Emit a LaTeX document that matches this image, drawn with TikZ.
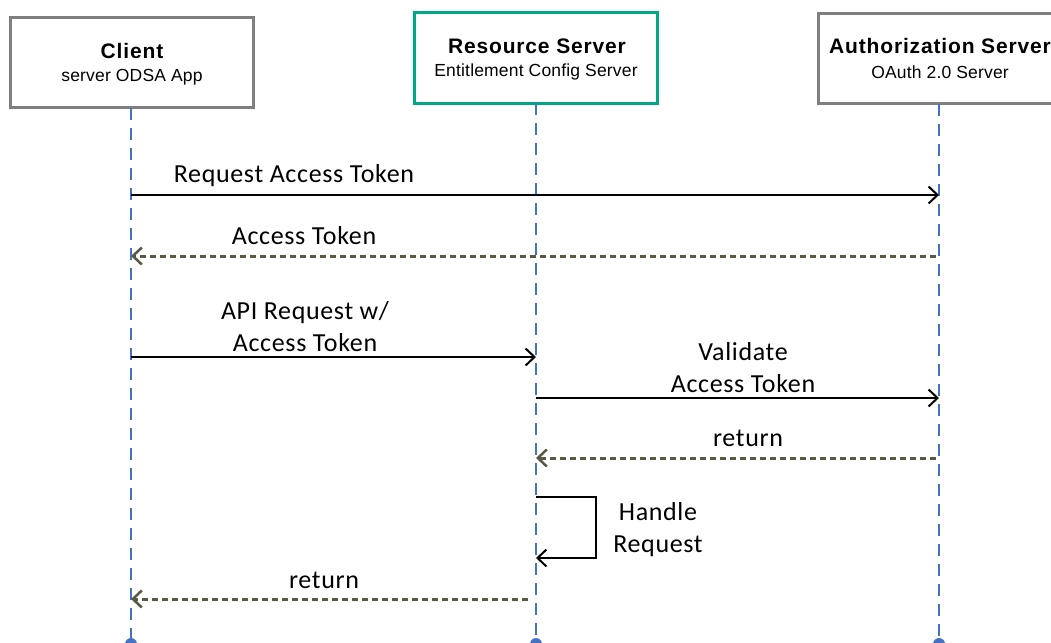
\documentclass[tikz,border=0pt]{standalone}
\usepackage{fontspec}
\setmainfont{Liberation Sans}
\newfontfamily\calib[LetterSpace=2.5]{Carlito}
\newfontfamily\titlefont[LetterSpace=4]{Liberation Sans}
\newfontfamily\subfont[LetterSpace=1]{Liberation Sans}
\usetikzlibrary{arrows.meta}
\definecolor{lifeblue}{HTML}{4472C4}
\definecolor{boxgray}{HTML}{7F7F7F}
\definecolor{boxgreen}{HTML}{00A884}
\definecolor{retcol}{HTML}{5A5843}
\tikzset{
  actor/.style={draw=#1, line width=3pt, fill=white, minimum width=243pt, minimum height=90pt, inner sep=0pt, align=center},
  ttl/.style={font=\titlefont\fontsize{21}{24}\selectfont\bfseries},
  sub/.style={font=\subfont\fontsize{17.5}{20}\selectfont},
  life/.style={draw=lifeblue, line width=1.5pt, dash pattern=on 12pt off 8pt},
  enddot/.style={circle, fill=lifeblue, minimum size=12pt, inner sep=0pt},
  msg/.style={draw=black, line width=2pt, -{Straight Barb[length=9pt,width=17pt,line width=2pt]}},
  ret/.style={draw=retcol, line width=3pt, dash pattern=on 6pt off 4pt, -{Straight Barb[length=9pt,width=17pt,line width=2.5pt]}},
  lbl/.style={font=\calib\fontsize{26}{32}\selectfont, align=center, inner sep=0pt}
}
\begin{document}
\begin{tikzpicture}[x=1pt,y=-1pt]
\useasboundingbox (0,0) rectangle (1051,642);
% lifelines
\coordinate (cb) at (131,644);
\coordinate (rb) at (536,644);
\coordinate (ab) at (939,644);
\node[actor=boxgray] (client) at (131.5,62.5) {};
\node[actor=boxgreen] (res) at (535.5,58) {};
\node[actor=boxgray] (auth) at (939.5,58.5) {};
\draw[life] (131,108) -- (cb);
\draw[life] (536,103) -- (rb);
\draw[life] (939,104) -- (ab);
\node[enddot] (cd) at (cb) {};
\node[enddot] (rd) at (rb) {};
\node[enddot] (ad) at (ab) {};
% box texts
\node[ttl] (ct) at (132,51) {Client};
\node[sub] (cs) at (132,77) {server ODSA App};
\node[ttl] (rt) at (537,46) {Resource Server};
\node[sub] (rs) at (536,72) {Entitlement Config Server};
\node[ttl] (at) at (940,46) {Authorization Server};
\node[sub] (as) at (940,72) {OAuth 2.0 Server};
% message coordinates
\coordinate (m1s) at (131,195); \coordinate (m1e) at (939,195);
\coordinate (m2s) at (936,256); \coordinate (m2e) at (131,256);
\coordinate (m3s) at (131,357); \coordinate (m3e) at (536,357);
\coordinate (m4s) at (536,398); \coordinate (m4e) at (939,398);
\coordinate (m5s) at (936,458); \coordinate (m5e) at (536,458);
\coordinate (m6s) at (536,497); \coordinate (m6a) at (596,497); \coordinate (m6b) at (596,558); \coordinate (m6e) at (536,558);
\coordinate (m7s) at (528,599); \coordinate (m7e) at (131,599);
\draw[msg] (m1s) -- (m1e);
\draw[ret] (m2s) -- (m2e);
\draw[msg] (m3s) -- (m3e);
\draw[msg] (m4s) -- (m4e);
\draw[ret] (m5s) -- (m5e);
\draw[msg] (m6s) -- (m6a) -- (m6b) -- (m6e);
\draw[ret] (m7s) -- (m7e);
% labels
\node[lbl] (l1) at (294,176) {Request Access Token};
\node[lbl] (l2) at (304,236) {Access Token};
\node[lbl] (l3) at (305,327) {API Request w/\\Access Token};
\node[lbl] (l4) at (743,368) {Validate\\Access Token};
\node[lbl] (l5) at (748,438) {return};
\node[lbl] (l6) at (658,530) {Handle\\Request};
\node[lbl] (l7) at (324,580) {return};
\end{tikzpicture}
\end{document}
